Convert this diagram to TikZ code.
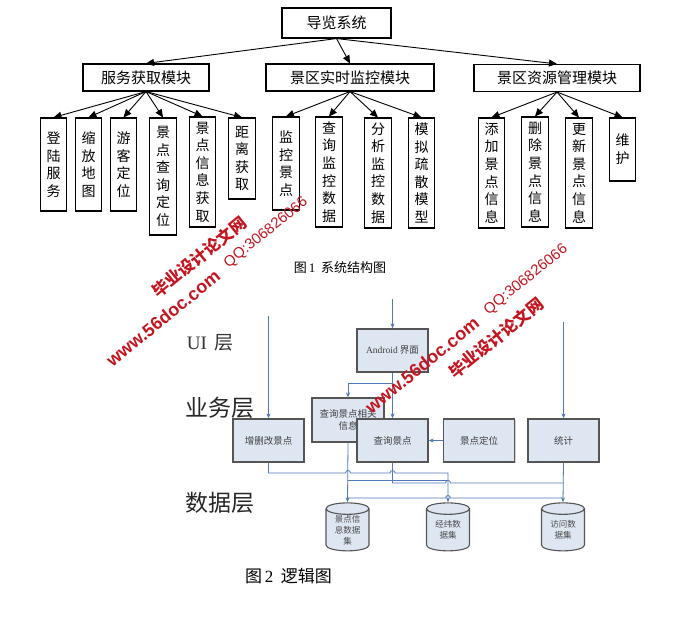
\documentclass[tikz,border=0pt]{standalone}
\usepackage{fontspec}
\setmainfont{Liberation Serif}
\newfontfamily\cjk{Noto Sans CJK SC}
\newfontfamily\wmsans{Liberation Sans}
\usetikzlibrary{arrows.meta}
\usetikzlibrary{shapes.geometric}
\usetikzlibrary{shadows}
\definecolor{boxfill}{RGB}{222,230,242}
\definecolor{boxline}{RGB}{85,85,85}
\definecolor{lnblue}{RGB}{79,122,183}
\definecolor{wmred}{RGB}{196,22,32}
\tikzset{
	x=1pt, y=-1pt,
	every node/.style={align=center,inner sep=0pt,font=\cjk},
	module/.style={draw, line width=1.1pt, minimum height=27pt, font=\cjk\fontsize{15}{15}\selectfont},
	leaf/.style={draw, line width=1.1pt, minimum width=26.5pt, font=\cjk\fontsize{14}{17.6}\selectfont},
	treearrow/.style={-{Triangle[length=8pt,width=7pt]}, line width=0.9pt},
	layername/.style={font=\cjk\fontsize{23}{23}\selectfont, text=black!85},
	logicbox/.style={draw=boxline, fill=boxfill, line width=1.3pt, minimum width=71pt, minimum height=43pt,
		drop shadow={shadow xshift=1pt, shadow yshift=-1pt, fill=black!35},
		font=\cjk\fontsize{9.5}{12}\selectfont, text=black!75},
	dbstore/.style={cylinder, shape border rotate=90, aspect=0.45, draw=boxline, fill=boxfill, line width=1.1pt,
		minimum width=43pt, minimum height=48pt, font=\cjk\fontsize{8.5}{11}\selectfont, text=black!70},
	flowline/.style={draw=lnblue, line width=0.8pt},
	flowto/.style={flowline, -{Stealth[length=5pt,width=4pt]}},
	wmark/.style={text=wmred, rotate=39}
}

\begin{document}
\begin{tikzpicture}
	\useasboundingbox (0,0) rectangle (699,619);
	
	% figure 1
	\node[draw, line width=1.1pt, minimum width=109pt, minimum height=30pt, font=\cjk\fontsize{15}{15}\selectfont] (sys) at (336.5,23) {导览系统};
	
	\node[module, minimum width=126pt] (serv) at (146,77.5) {服务获取模块};
	\node[module, minimum width=168pt] (watch) at (350,77.5) {景区实时监控模块};
	\node[module, minimum width=166pt] (res) at (557,78) {景区资源管理模块};
	
	\node[leaf, minimum height=93pt] (login) at (53.5,164.5) {登\\陆\\服\\务};
	\node[leaf, minimum height=93pt] (zoommap) at (88.5,164.5) {缩\\放\\地\\图};
	\node[leaf, minimum height=93pt] (visitor) at (123.5,164.5) {游\\客\\定\\位};
	\node[leaf, minimum height=117pt] (spotloc) at (163,176.5) {景\\点\\查\\询\\定\\位};
	\node[leaf, minimum height=110pt] (spotinfo) at (202.5,172) {景\\点\\信\\息\\获\\取};
	\node[leaf, minimum height=81pt] (dist) at (242,158.5) {距\\离\\获\\取};
	
	\node[leaf, minimum height=93pt] (monspot) at (286,163.5) {监\\控\\景\\点};
	\node[leaf, minimum height=110pt] (mondata) at (329,172) {查\\询\\监\\控\\数\\据};
	\node[leaf, minimum height=110pt] (analyse) at (378,173) {分\\析\\监\\控\\数\\据};
	\node[leaf, minimum height=110pt] (evac) at (421.5,173) {模\\拟\\疏\\散\\模\\型};
	
	\node[leaf, minimum height=110pt] (addinfo) at (491.5,173) {添\\加\\景\\点\\信\\息};
	\node[leaf, minimum height=110pt] (delinfo) at (535,172) {删\\除\\景\\点\\信\\息};
	\node[leaf, minimum height=110pt] (updinfo) at (579,173) {更\\新\\景\\点\\信\\息};
	\node[leaf, minimum height=63pt] (maint) at (622.5,149.5) {维\\护};
	
	\path[treearrow] (sys.south) edge (serv.north) edge (watch.north) edge (res.north);
	\path[treearrow] (serv.south) edge (login.north) edge (zoommap.north) edge (visitor.north)
		edge (spotloc.north) edge (spotinfo.north) edge (dist.north);
	\path[treearrow] (watch.south) edge (monspot.north) edge (mondata.north) edge (analyse.north) edge (evac.north);
	\path[treearrow] (res.south) edge (addinfo.north) edge (delinfo.north) edge (updinfo.north) edge (maint.north);
	
	\node[font=\cjk\fontsize{13}{13}\selectfont] (cap1) at (340,268) {图\,{\rmfamily 1}\ \ 系统结构图};
	
	% figure 2
	\node[font=\fontsize{19}{19}\selectfont, text=black!80] (uilayer) at (210,343) {{\rmfamily UI}\hspace{7pt}{\cjk 层}};
	\node[layername] (bizlayer) at (219.5,408) {业务层};
	\node[layername] (datalayer) at (219.5,503) {数据层};
	
	\node[logicbox] (ui) at (392.5,350.5) {{\rmfamily Android} 界面};
	\node[logicbox, minimum width=72pt, minimum height=44pt, text depth=0pt] (rel) at (348,420) {查询景点相关\\信息};
	\node[logicbox] (crud) at (268.5,440.5) {增删改景点};
	\node[logicbox] (query) at (392.5,440.5) {查询景点};
	\node[logicbox] (locate) at (479,440.5) {景点定位};
	\node[logicbox] (stat) at (563.5,440.5) {统计};
	
	\node[dbstore] (spotdb) at (347.5,530) {景点信\\息数据\\集};
	\node[dbstore] (geodb) at (448,530) {经纬数\\据集};
	\node[dbstore] (visitdb) at (563,530) {访问数\\据集};
	
	\coordinate (uiin) at (392.5,299);
	\coordinate (crudin) at (268.5,316);
	\coordinate (statin) at (563.5,322);
	\coordinate (split) at (392.5,383);
	\coordinate (ja) at (348,480);
	\coordinate (jb) at (448,480);
	\coordinate (jc) at (348,498);
	\coordinate (jd) at (563.5,498);
	
	\draw[flowto] (uiin) -- (ui.north);
	\draw[flowto] (crudin) -- (crud.north);
	\draw[flowto] (statin) -- (stat.north);
	\draw[flowto] (ui.south) -- (query.north);
	\draw[flowto] (split) -| (rel.north);
	\draw[flowto] (locate.west) -- (query.east);
	\draw[flowto] (rel.south) -- (spotdb.north);
	\draw[flowto] (stat.south) -- (visitdb.north);
	\draw[flowto] (crud.south) |- (345.5,473) arc[start angle=180, end angle=0, radius=2.5pt]
		-- (390,473) arc[start angle=180, end angle=0, radius=2.5pt] -- (448,473) -- (geodb.north);
	\draw[flowline] (query.south) |- (445.5,483) arc[start angle=180, end angle=0, radius=2.5pt] -- (563.5,483);
	\draw[flowline] (ja) -- (jb);
	\draw[flowline] (jc) -- (445.5,498) arc[start angle=180, end angle=0, radius=2.5pt] -- (jd);
	
	\node[font=\cjk\fontsize{17}{17}\selectfont] (cap2) at (288.5,576) {图\,{\rmfamily 2}\ \ 逻辑图};
	
	% watermarks
	\node[wmark, font=\cjk\bfseries\fontsize{16.5}{16.5}\selectfont] (wmcn1) at (199,257) {毕业设计论文网};
	\node[wmark, font=\wmsans\fontsize{15}{15}\selectfont] (wmqq1) at (266,233) {QQ:306826066};
	\node[wmark, font=\wmsans\bfseries\fontsize{18}{18}\selectfont] (wmurl1) at (163,318) {www.56doc.com};
	\node[wmark, font=\wmsans\bfseries\fontsize{18}{18}\selectfont] (wmurl2) at (422,365) {www.56doc.com};
	\node[wmark, font=\wmsans\fontsize{15}{15}\selectfont] (wmqq2) at (526,280) {QQ:306826066};
	\node[wmark, font=\cjk\bfseries\fontsize{16.5}{16.5}\selectfont] (wmcn2) at (496,338) {毕业设计论文网};
	
\end{tikzpicture}
\end{document}
